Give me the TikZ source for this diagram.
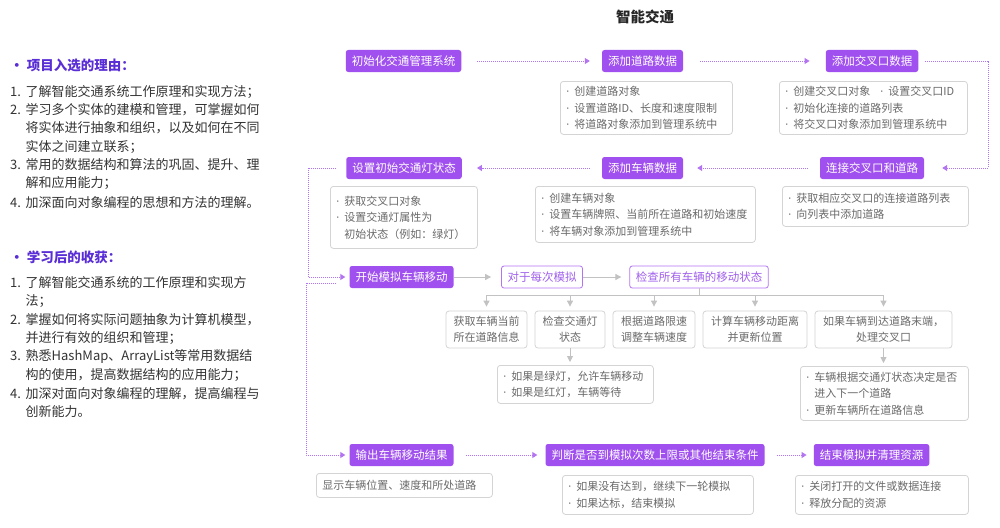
\documentclass[tikz,border=0pt]{standalone}
\usepackage{fontspec}
\setmainfont{Noto Sans CJK SC}
\newfontfamily\latinf{Noto Sans}
\usetikzlibrary{arrows.meta}
\definecolor{pur}{HTML}{A050EE}
\definecolor{purline}{HTML}{B374F2}
\definecolor{purtext}{HTML}{A060EC}
\definecolor{indig}{HTML}{5A2ED6}
\definecolor{gtext}{HTML}{6A6A6A}
\definecolor{gline}{HTML}{D4D4D4}
\definecolor{garrow}{HTML}{C2C2C2}
\definecolor{body}{HTML}{333333}
\newcommand\bl{\mbox{{\latinf ·}\hspace{5pt}}}
\begin{document}
\begin{tikzpicture}[x=1pt,y=-1pt,
  pbox/.style={fill=pur,text=white,rounded corners=2.5pt,minimum height=22pt,inner xsep=6pt,inner ysep=0pt,font=\fontsize{11.5}{13}\selectfont},
  obox/.style={draw=purline,line width=0.8pt,fill=white,text=purtext,rounded corners=2.5pt,minimum height=22pt,inner xsep=6pt,inner ysep=0pt,font=\fontsize{11.5}{13}\selectfont},
  dbox/.style={draw=gline,line width=0.8pt,rounded corners=3pt,text=gtext,anchor=north west,align=left,font=\fontsize{11}{16.5}\selectfont,inner xsep=6pt,inner ysep=2pt},
  sbox/.style={draw=gline,line width=0.8pt,rounded corners=3pt,text=gtext,align=center,font=\fontsize{11}{16.5}\selectfont,minimum height=37pt,inner xsep=3pt,inner ysep=0pt},
  flow/.style={purline,line width=1pt,dash pattern=on 1pt off 1pt,-{Triangle[width=6pt,length=5pt]}},
  garr/.style={garrow,line width=0.9pt,-{Triangle[width=6pt,length=6pt]}},
  gl/.style={garrow,line width=0.9pt},
  lt/.style={anchor=west,inner sep=0pt,text=body,font=\fontsize{13}{15}\selectfont},
  lh/.style={anchor=west,inner sep=0pt,text=indig,font=\bfseries\fontsize{13.5}{15}\selectfont},
]
\useasboundingbox (0,0) rectangle (1000,527);
\fill[white] (0,0) rectangle (1000,527);

% title
\node[font=\bfseries\fontsize{14.5}{16}\selectfont,text=black!85] (title) at (645,17) {智能交通};

% left panel
\node[lh] (h1) at (10,65) {• 项目入选的理由：};
\node[lt] (a1) at (10,92) {\makebox[15.5pt][l]{1.}了解智能交通系统工作原理和实现方法；};
\node[lt] (a2) at (10,110) {\makebox[15.5pt][l]{2.}学习多个实体的建模和管理，可掌握如何};
\node[lt] (a3) at (25.5,128) {将实体进行抽象和组织，以及如何在不同};
\node[lt] (a4) at (25.5,147) {实体之间建立联系；};
\node[lt] (a5) at (10,165) {\makebox[15.5pt][l]{3.}常用的数据结构和算法的巩固、提升、理};
\node[lt] (a6) at (25.5,183) {解和应用能力；};
\node[lt] (a7) at (10,203) {\makebox[15.5pt][l]{4.}加深面向对象编程的思想和方法的理解。};

\node[lh] (h2) at (10,257) {• 学习后的收获：};
\node[lt] (b1) at (10,283) {\makebox[15.5pt][l]{1.}了解智能交通系统的工作原理和实现方};
\node[lt] (b2) at (25.5,301) {法；};
\node[lt] (b3) at (10,320) {\makebox[15.5pt][l]{2.}掌握如何将实际问题抽象为计算机模型，};
\node[lt] (b4) at (25.5,338) {并进行有效的组织和管理；};
\node[lt] (b5) at (10,357) {\makebox[15.5pt][l]{3.}熟悉HashMap、ArrayList等常用数据结};
\node[lt] (b6) at (25.5,375) {构的使用，提高数据结构的应用能力；};
\node[lt] (b7) at (10,394) {\makebox[15.5pt][l]{4.}加深对面向对象编程的理解，提高编程与};
\node[lt] (b8) at (25.5,412) {创新能力。};

% row 1
\node[pbox] (n1) at (403.5,61) {初始化交通管理系统};
\node[pbox] (n2) at (642.5,61) {添加道路数据};
\node[pbox] (n3) at (872,61) {添加交叉口数据};
\node[dbox,text width=160pt,minimum height=53pt] (d2) at (560,81) {\bl 创建道路对象\\\bl 设置道路ID、长度和速度限制\\\bl 将道路对象添加到管理系统中};
\node[dbox,text width=176pt,minimum height=53pt] (d3) at (779,81) {\mbox{\bl 创建交叉口对象\hspace{10pt}\bl 设置交叉口ID}\\\bl 初始化连接的道路列表\\\bl 将交叉口对象添加到管理系统中};

% row 2
\node[pbox] (n4) at (872,168) {连接交叉口和道路};
\node[pbox] (n5) at (642.5,168) {添加车辆数据};
\node[pbox] (n6) at (404,168) {设置初始交通灯状态};
\node[dbox,text width=135pt,minimum height=62pt] (d6) at (330,186) {\bl 获取交叉口对象\\\bl 设置交通灯属性为\\\hspace{8pt}初始状态（例如：绿灯）};
\node[dbox,text width=208pt,minimum height=56pt] (d5) at (535,186) {\bl 创建车辆对象\\\bl 设置车辆牌照、当前所在道路和初始速度\\\bl 将车辆对象添加到管理系统中};
\node[dbox,text width=174pt,minimum height=40pt] (d4) at (782,186) {\bl 获取相应交叉口的连接道路列表\\\bl 向列表中添加道路};

% row 3
\node[pbox] (n7) at (401.5,277) {开始模拟车辆移动};
\node[obox] (n8) at (542,277) {对于每次模拟};
\node[obox] (n9) at (699,277) {检查所有车辆的移动状态};
\node[sbox,minimum width=81pt] (s1) at (486.5,329.5) {获取车辆当前\\所在道路信息};
\node[sbox,minimum width=70pt] (s2) at (570,329.5) {检查交通灯\\状态};
\node[sbox,minimum width=82pt] (s3) at (654,329.5) {根据道路限速\\调整车辆速度};
\node[sbox,minimum width=104pt] (s4) at (755,329.5) {计算车辆移动距离\\并更新位置};
\node[sbox,minimum width=137pt] (s5) at (883.5,329.5) {如果车辆到达道路末端，\\处理交叉口};
\node[dbox,text width=144pt,minimum height=38pt] (e2) at (497,365) {\bl 如果是绿灯，允许车辆移动\\\bl 如果是红灯，车辆等待};
\node[dbox,text width=156pt,minimum height=54pt] (e5) at (800,366) {\bl 车辆根据交通灯状态决定是否\\\hspace{8pt}进入下一个道路\\\bl 更新车辆所在道路信息};

% row 4
\node[pbox] (n10) at (401.5,455) {输出车辆移动结果};
\node[pbox] (n11) at (655,455) {判断是否到模拟次数上限或其他结束条件};
\node[pbox] (n12) at (871.5,455) {结束模拟并清理资源};
\node[dbox,text width=164pt,minimum height=24pt] (d10) at (316,473) {显示车辆位置、速度和所处道路};
\node[dbox,text width=179pt,minimum height=39pt] (d11) at (562,475) {\bl 如果没有达到，继续下一轮模拟\\\bl 如果达标，结束模拟};
\node[dbox,text width=161pt,minimum height=39pt] (d12) at (795,475) {\bl 关闭打开的文件或数据连接\\\bl 释放分配的资源};

% flow connectors
\coordinate (r1) at (988,61);
\coordinate (l1) at (308,168);
\coordinate (l2) at (306,283);
\draw[flow] ([xshift=16pt]n1.east) -- ([xshift=-12pt]n2.west);
\draw[flow] ([xshift=17pt]n2.east) -- ([xshift=-16pt]n3.west);
\draw[flow] ([xshift=7pt]n3.east) -- (r1) |- ([xshift=18pt]n4.east);
\draw[flow] ([xshift=-12pt]n4.west) -- ([xshift=14pt]n5.east);
\draw[flow] ([xshift=-12pt]n5.west) -- ([xshift=15pt]n6.east);
\draw[flow] ([xshift=-10pt]n6.west) -- (l1) |- ([xshift=-4pt]n7.west);
\draw[flow] ([xshift=-13pt,yshift=-6pt]n7.west) -- (l2) |- ([xshift=-4pt]n10.west);
\draw[flow] ([xshift=12pt]n10.east) -- ([xshift=-8pt]n11.west);
\draw[flow] ([xshift=12pt]n11.east) -- ([xshift=-7pt]n12.west);

% grey connectors
\coordinate (bus) at (0,295);
\draw[garr] (n7.east) -- ([xshift=-10pt]n8.west);
\draw[garr] (n8.east) -- ([xshift=-8pt]n9.west);
\draw[gl] (n9.south) -- (n9.south |- bus);
\draw[gl] (s1.north |- bus) -- (s5.north |- bus);
\foreach \s in {s1,s2,s3,s4,s5}{
  \draw[garr] (\s.north |- bus) -- ([yshift=4pt]\s.north);
}
\draw[garr] (s2.south) -- ([yshift=3pt]s2.south |- e2.north);
\draw[garr] (s5.south) -- ([yshift=3pt]s5.south |- e5.north);
\end{tikzpicture}
\end{document}
